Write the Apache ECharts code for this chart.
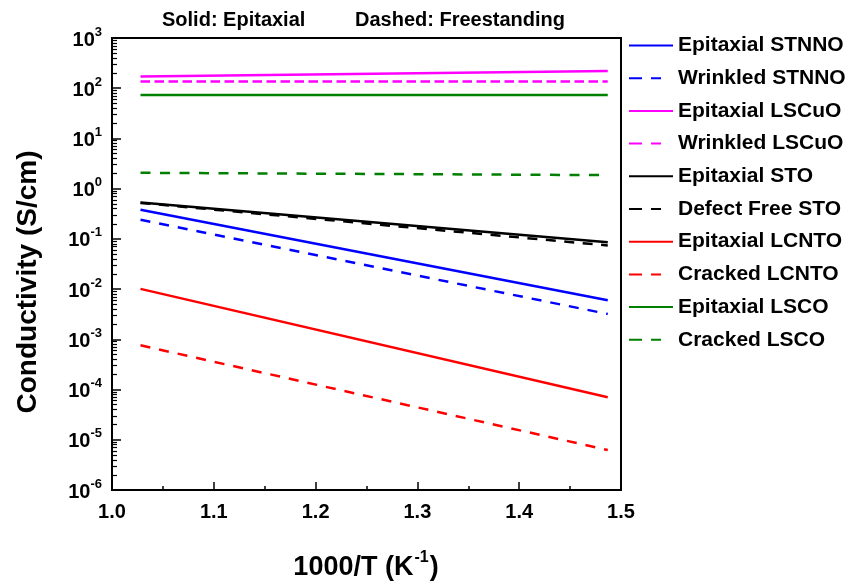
<!DOCTYPE html>
<html><head><meta charset="utf-8">
<script src="https://cdn.jsdelivr.net/npm/echarts@6/dist/echarts.min.js"></script>
<style>html,body{margin:0;padding:0;background:#fff}#c{width:848px;height:583px}</style>
</head><body><div id="c"></div>
<script>
// x positions (1000/T) of the line end points
const xStartEnd = [1.028, 1.487];
const seriesNames = ['Epitaxial STNNO','Wrinkled STNNO','Epitaxial LSCuO','Wrinkled LSCuO','Epitaxial STO','Defect Free STO','Epitaxial LCNTO','Cracked LCNTO','Epitaxial LSCO','Cracked LSCO'];
// conductivity (S/cm) at start and end x
const epiSTNNO = [0.38, 0.0060];
const wrkSTNNO = [0.24, 0.0032];
const epiLSCuO = [172, 220];
const wrkLSCuO = [136, 136];
const epiSTO   = [0.53, 0.086];
const dfSTO    = [0.52, 0.074];
const epiLCNTO = [0.0101, 7.0e-5];
const crkLCNTO = [7.6e-4, 6.25e-6];
const epiLSCO  = [73, 73];
const crkLSCO  = [2.07, 1.86];
const xTicks = [1.0, 1.1, 1.2, 1.3, 1.4, 1.5];
const yDecades = [-6,-5,-4,-3,-2,-1,0,1,2,3];

const valuesList = [epiSTNNO, wrkSTNNO, epiLSCuO, wrkLSCuO, epiSTO, dfSTO, epiLCNTO, crkLCNTO, epiLSCO, crkLSCO];
const colors = ['#0000ff','#0000ff','#ff00ff','#ff00ff','#000000','#000000','#ff0000','#ff0000','#008000','#008000'];
const dashed = [false,true,false,true,false,true,false,true,false,true];
const dashPat = [null,[10,9],null,[9.5,4.5],null,[10,8.5],null,[10,9],null,[10,9.5]];

const minorVals = [];
for (let e = -6; e < 3; e++) for (let k = 2; k <= 9; k++) minorVals.push(k * Math.pow(10, e));

const FONT = '"Liberation Sans", Arial, sans-serif';
const series = seriesNames.map((n, i) => ({
  name: n, type: 'line', symbol: 'none', showSymbol: false, animation: false,
  data: xStartEnd.map((x, j) => [x, valuesList[i][j]]),
  lineStyle: { color: colors[i], width: 2.5, type: dashed[i] ? dashPat[i] : 'solid' },
  itemStyle: { color: colors[i] },
  z: dashed[i] ? 3 : 2
}));

const chart = echarts.init(document.getElementById('c'));
chart.setOption({
  animation: false,
  backgroundColor: '#fff',
  grid: { left: 112, right: 227, top: 38, bottom: 93, show: true, borderColor: '#000', borderWidth: 2, backgroundColor: 'transparent' },
  legend: {
    orient: 'vertical', left: 628, top: 35, padding: 0,
    itemWidth: 44, itemHeight: 14, itemGap: 11.7,
    itemStyle: { opacity: 0, borderWidth: 0 },
    textStyle: { fontFamily: FONT, fontWeight: 'bold', fontSize: 21, color: '#000', lineHeight: 21 },
    data: seriesNames.map((n, i) => ({
      name: n,
      itemStyle: { opacity: 0, borderWidth: 0 },
      lineStyle: { width: 2, opacity: 1, type: dashed[i] ? [13, 9, 10, 40] : 'solid' }
    }))
  },
  xAxis: {
    type: 'value', min: 1.0, max: 1.5, interval: 0.1,
    axisLine: { show: true, lineStyle: { color: '#000', width: 2 } },
    axisTick: { show: true, inside: true, length: 8, lineStyle: { color: '#000', width: 1.5 } },
    minorTick: { show: true, splitNumber: 2, length: 4, lineStyle: { color: '#000', width: 1.5 } },
    splitLine: { show: false },
    axisLabel: { margin: 12, fontFamily: FONT, fontWeight: 'bold', fontSize: 20, color: '#000',
      formatter: v => v.toFixed(1) }
  },
  yAxis: [{
    type: 'log', logBase: 10, min: 1e-6, max: 1e3, interval: 1,
    axisLine: { show: true, lineStyle: { color: '#000', width: 2 } },
    axisTick: { show: true, inside: true, length: 9, lineStyle: { color: '#000', width: 1.5 } },
    splitLine: { show: false },
    axisLabel: {
      margin: 10, color: '#000',
      formatter: v => '{b|10}{s|' + Math.round(Math.log10(v)) + '}',
      rich: {
        b: { fontFamily: FONT, fontWeight: 'bold', fontSize: 20, color: '#000', padding: [4, 0, 0, 0] },
        s: { fontFamily: FONT, fontWeight: 'bold', fontSize: 13, color: '#000', padding: [0, 0, 12, 0] }
      }
    }
  }, {
    type: 'log', logBase: 10, min: 1e-6, max: 1e3, position: 'left', offset: 0,
    axisLine: { show: false },
    axisLabel: { show: false },
    splitLine: { show: false },
    axisTick: { show: true, inside: true, length: 5, customValues: minorVals, lineStyle: { color: '#000', width: 1.2 } }
  }],
  graphic: [
    { type: 'text', left: 162, top: 10, style: { text: 'Solid: Epitaxial', font: 'bold 20px ' + FONT, fill: '#000' } },
    { type: 'text', left: 355, top: 10, style: { text: 'Dashed: Freestanding', font: 'bold 20px ' + FONT, fill: '#000' } },
    { type: 'text', x: 28, y: 282, rotation: Math.PI / 2,
      style: { text: 'Conductivity (S/cm)', font: 'bold 28px ' + FONT, fill: '#000', align: 'center', verticalAlign: 'middle' } },
    { type: 'text', x: 366, y: 565,
      style: { text: '{b|1000/T (K}{s|-1}{b|)}', align: 'center', verticalAlign: 'middle',
        rich: {
          b: { fontFamily: FONT, fontWeight: 'bold', fontSize: 27, fill: '#000', color: '#000', padding: [6, 0, 0, 0] },
          s: { fontFamily: FONT, fontWeight: 'bold', fontSize: 16, fill: '#000', color: '#000', padding: [0, 1, 14, 1] }
        } } }
  ],
  series: series
});
</script></body></html>
